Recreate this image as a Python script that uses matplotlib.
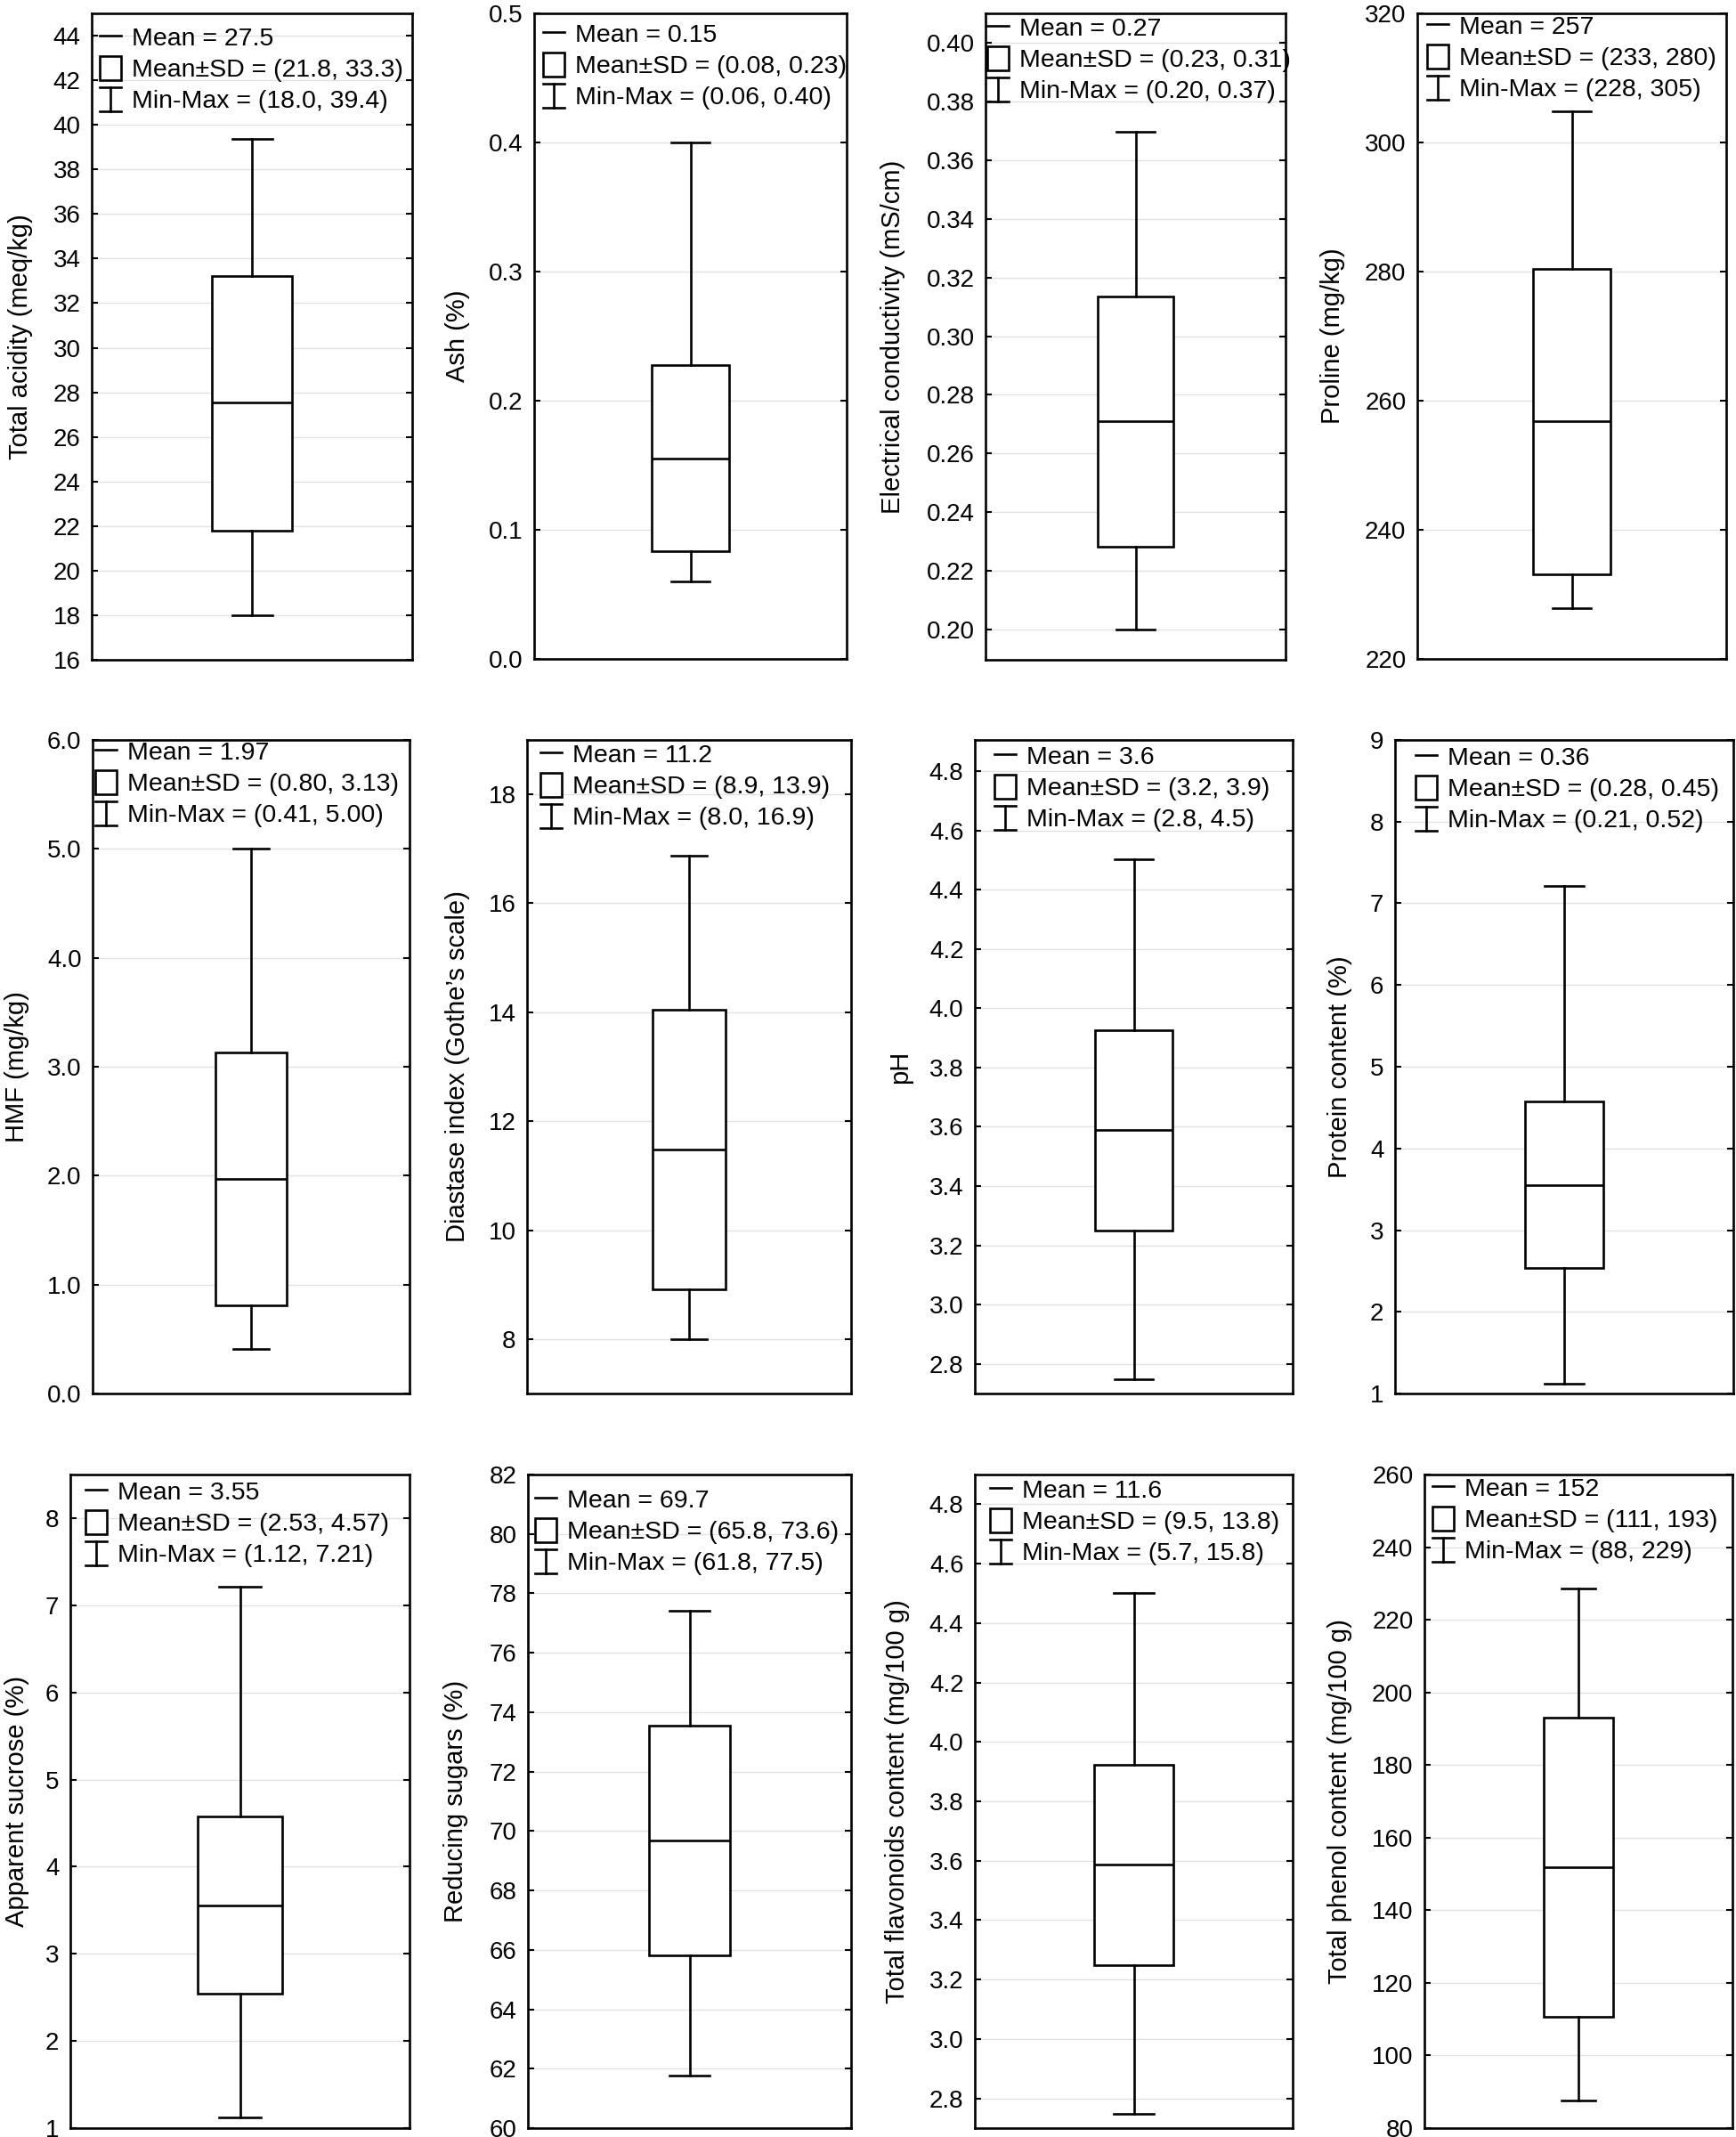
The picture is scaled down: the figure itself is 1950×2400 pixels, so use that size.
import matplotlib
matplotlib.use("Agg")
import matplotlib.pyplot as plt
from matplotlib.ticker import MultipleLocator, FormatStrFormatter
from matplotlib.legend_handler import HandlerBase
from matplotlib.lines import Line2D
from matplotlib.patches import Rectangle

plt.rcParams['font.family'] = ['Liberation Sans', 'DejaVu Sans']

# ---------------- data ----------------
ylabels = ["Total acidity (meq/kg)", "Ash (%)", "Electrical conductivity (mS/cm)", "Proline (mg/kg)",
           "HMF (mg/kg)", "Diastase index (Gothe\u2019s scale)", "pH", "Protein content (%)",
           "Apparent sucrose (%)", "Reducing sugars (%)", "Total flavonoids content (mg/100 g)",
           "Total phenol content (mg/100 g)"]

centre_vals = [27.55, 0.1555, 0.271, 256.85, 1.97, 11.48, 3.589, 3.55, 3.551, 69.69, 3.586, 151.86]
sd_low = [21.81, 0.0833, 0.2283, 233.1, 0.81, 8.92, 3.25, 2.54, 2.539, 65.82, 3.249, 110.6]
sd_high = [33.22, 0.2276, 0.3136, 280.4, 3.13, 14.04, 3.926, 4.58, 4.574, 73.55, 3.923, 192.98]
min_vals = [18.0, 0.0603, 0.200, 227.8, 0.41, 8.0, 2.749, 1.115, 1.12, 61.78, 2.749, 87.7]
max_vals = [39.36, 0.40, 0.3697, 304.8, 5.0, 16.87, 4.501, 7.21, 7.21, 77.42, 4.50, 228.7]

mean_txt = ["Mean = 27.5", "Mean = 0.15", "Mean = 0.27", "Mean = 257",
            "Mean = 1.97", "Mean = 11.2", "Mean = 3.6", "Mean = 0.36",
            "Mean = 3.55", "Mean = 69.7", "Mean = 11.6", "Mean = 152"]
sd_txt = ["Mean\u00b1SD = (21.8, 33.3)", "Mean\u00b1SD = (0.08, 0.23)", "Mean\u00b1SD = (0.23, 0.31)",
          "Mean\u00b1SD = (233, 280)", "Mean\u00b1SD = (0.80, 3.13)", "Mean\u00b1SD = (8.9, 13.9)",
          "Mean\u00b1SD = (3.2, 3.9)", "Mean\u00b1SD = (0.28, 0.45)", "Mean\u00b1SD = (2.53, 4.57)",
          "Mean\u00b1SD = (65.8, 73.6)", "Mean\u00b1SD = (9.5, 13.8)", "Mean\u00b1SD = (111, 193)"]
mm_txt = ["Min-Max = (18.0, 39.4)", "Min-Max = (0.06, 0.40)", "Min-Max = (0.20, 0.37)",
          "Min-Max = (228, 305)", "Min-Max = (0.41, 5.00)", "Min-Max = (8.0, 16.9)",
          "Min-Max = (2.8, 4.5)", "Min-Max = (0.21, 0.52)", "Min-Max = (1.12, 7.21)",
          "Min-Max = (61.8, 77.5)", "Min-Max = (5.7, 15.8)", "Min-Max = (88, 229)"]

y_limits = [(16, 45), (0, 0.5), (0.1897, 0.41), (220, 320), (0, 6), (7, 19),
            (2.70, 4.905), (1, 9), (1, 8.5), (60, 82), (2.70, 4.90), (80, 260)]
tick_steps = [2, 0.1, 0.02, 20, 1, 2, 0.2, 1, 1, 2, 0.2, 20]
tick_fmts = ["%d", "%.1f", "%.2f", "%d", "%.1f", "%d", "%.1f", "%d", "%d", "%d", "%.1f", "%d"]

# ---------------- layout / style ----------------
W, H = 1950, 2400
rects_px = [(103, 15, 463, 741), (600, 15, 951, 740), (1107, 15, 1444, 741), (1592, 15, 1939, 740),
            (104, 831, 460, 1565), (592, 831, 956, 1565), (1095, 831, 1452, 1565), (1567, 831, 1947, 1565),
            (79, 1656, 460, 2390), (593, 1656, 956, 2390), (1095, 1656, 1452, 2390), (1600, 1656, 1946, 2390)]
label_off_px = [80, 86, 104, 95, 85, 78, 84, 62, 60, 81, 87, 95]
box_widths = [0.25, 0.25, 0.25, 0.25, 0.225, 0.225, 0.245, 0.23, 0.25, 0.25, 0.25, 0.225]
legend_dx_px = [9, 10, 2, 11, 3, 15, 22, 23, 17, 8, 17, 9]
legend_row1_px = [28, 24, 17, 15, 14, 17, 19, 20, 20, 29, 18, 16]

LW = 1.9
LEG_FS = 20.5


class RangeKey:
    pass


class RangeHandler(HandlerBase):
    def create_artists(self, legend, orig_handle, xdescent, ydescent, width, height, fontsize, trans):
        x0, y0 = -xdescent, -ydescent
        xc = x0 + width / 2
        arts = [Line2D([xc, xc], [y0, y0 + height]),
                Line2D([x0, x0 + width], [y0, y0]),
                Line2D([x0, x0 + width], [y0 + height, y0 + height])]
        for a in arts:
            a.set_color('black')
            a.set_linewidth(LW)
            a.set_transform(trans)
        return arts


fig = plt.figure(figsize=(W / 100, H / 100), dpi=100)

for i in range(12):
    L, T, R, B = rects_px[i]
    ax = fig.add_axes([L / W, 1 - B / H, (R - L) / W, (B - T) / H])
    stats = [dict(med=centre_vals[i], q1=sd_low[i], q3=sd_high[i],
                  whislo=min_vals[i], whishi=max_vals[i], fliers=[])]
    w = box_widths[i]
    ax.bxp(stats, positions=[0], widths=w, capwidths=w / 2, patch_artist=True,
           showfliers=False,
           boxprops=dict(facecolor='white', edgecolor='black', linewidth=LW),
           medianprops=dict(color='black', linewidth=LW),
           whiskerprops=dict(color='black', linewidth=LW),
           capprops=dict(color='black', linewidth=LW),
           zorder=3)
    ax.set_xlim(-0.5, 0.5)
    ax.set_ylim(*y_limits[i])
    ax.yaxis.set_major_locator(MultipleLocator(tick_steps[i]))
    ax.yaxis.set_major_formatter(FormatStrFormatter(tick_fmts[i]))
    ax.set_xticks([])
    ax.tick_params(axis='y', direction='in', left=True, right=True, length=5, width=1.5,
                   labelsize=20, pad=9)
    ax.grid(axis='y', color='#e2e2e2', linewidth=1.0, zorder=0)
    ax.set_axisbelow(True)
    for s in ax.spines.values():
        s.set_linewidth(LW)
    ax.set_ylabel(ylabels[i], fontsize=21, va='center')
    ax.yaxis.set_label_coords(-label_off_px[i] / (R - L), 0.5)

    handles = [Line2D([], [], color='black', linewidth=LW),
               Rectangle((0, 0), 1, 1, facecolor='white', edgecolor='black', linewidth=LW),
               RangeKey()]
    row_h = 1.05 * LEG_FS * 100 / 72
    ax.legend(handles, [mean_txt[i], sd_txt[i], mm_txt[i]],
              handler_map={RangeKey: RangeHandler()},
              loc='upper left',
              bbox_to_anchor=(legend_dx_px[i] / (R - L), 1 - (legend_row1_px[i] - row_h / 2) / (B - T)),
              borderaxespad=0.0, borderpad=0.0,
              frameon=False, fontsize=LEG_FS, handlelength=0.85, handleheight=1.05,
              handletextpad=0.4, labelspacing=0.22)

fig.savefig("out.png", dpi=100, facecolor='white')
